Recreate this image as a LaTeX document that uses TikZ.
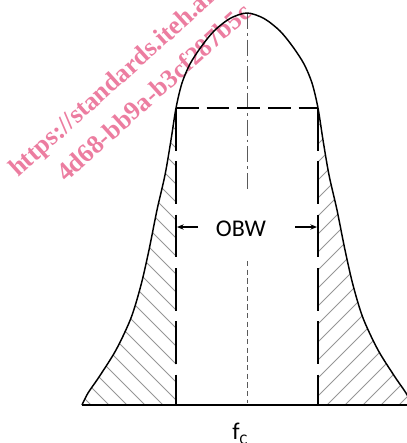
\documentclass[tikz,border=0pt]{standalone}
\usepackage{fontspec}
\setmainfont{Carlito}
\newfontfamily\wmfont{Liberation Serif}
\usetikzlibrary{arrows.meta}
\definecolor{wmpink}{RGB}{236,125,160}
\definecolor{hatchgray}{RGB}{150,150,150}
\definecolor{axisgray}{RGB}{90,90,90}
\tikzset{
  wm/.style={text=wmpink, font=\wmfont\bfseries\fontsize{19.5}{20}\selectfont, inner sep=0pt, anchor=base west, rotate=42},
  curve/.style={line width=1.1pt, black},
  hatchline/.style={line width=0.55pt, hatchgray},
  topdash/.style={line width=1.9pt, black, dash pattern=on 17pt off 6pt},
  sidedash/.style={line width=1.6pt, black, dash pattern=on 32pt off 8pt},
  basedash/.style={line width=1.9pt, black, dash pattern=on 17pt off 7pt},
  centerdd/.style={line width=0.7pt, axisgray, dash pattern=on 12pt off 3pt on 2pt off 3pt},
  centerfine/.style={line width=0.7pt, axisgray, dash pattern=on 4pt off 2.5pt},
  dimarrow/.style={line width=0.8pt, black, -{Stealth[length=5pt,width=4pt]}},
  lbl/.style={font=\fontsize{18}{18}\selectfont, inner sep=0pt}
}
\begin{document}
\begin{tikzpicture}[x=0.75pt,y=-0.75pt]
\useasboundingbox (0,0) rectangle (407,443);
\clip (0,0) rectangle (407,443);

% watermark
\node[wm] (wm1) at (18,178) {https://standards.iteh.ai/catalog};
\node[wm] (wm2) at (66,183) {4d68-bb9a-b3cf287b5c};

% hatching left
\begin{scope}
  \clip plot[smooth, tension=0.5] coordinates {(176,108) (171,140) (165,175) (157,210) (149,250) (141,285) (131,318) (116,350) (99,377) (88,393) (82,405)} -- (176,405) -- cycle;
  \foreach \a in {-340,-322,...,200} \draw[hatchline] (\a,100) -- ++(320,320);
\end{scope}
% hatching right
\begin{scope}
  \clip plot[smooth, tension=0.5] coordinates {(318,108) (323,140) (329,175) (337,210) (345,250) (353,285) (363,318) (378,350) (395,377) (406,393) (412,405)} -- (318,405) -- cycle;
  \foreach \a in {290,308,...,840} \draw[hatchline] (\a,100) -- ++(-320,320);
\end{scope}

% centre lines
\coordinate (ctop) at (247,13);
\coordinate (cmid) at (247,192);
\coordinate (clow) at (247,261);
\coordinate (cbot) at (247,403);
\draw[centerdd] (ctop) -- (cmid);
\draw[centerfine] (clow) -- (cbot);

% baseline
\coordinate (bl) at (82,405);
\coordinate (br) at (407,405);
\draw[line width=1.1pt] (bl) -- (br);

% curve
\draw[curve] plot[smooth, tension=0.5] coordinates {(82,405) (88,393) (99,377) (116,350) (131,318) (141,285) (149,250) (157,210) (165,175) (171,140) (176,108) (182,83) (190,64) (201,47) (214,31) (230,18.5) (247,13) (264,18.5) (280,31) (293,47) (304,64) (312,83) (318,108) (323,140) (329,175) (337,210) (345,250) (353,285) (363,318) (378,350) (395,377) (406,393) (412,405)};

% dashed box
\coordinate (tl) at (176,108);
\coordinate (tr) at (318,108);
\coordinate (bll) at (176,405);
\coordinate (brr) at (318,405);
\draw[topdash] (tl) -- (tr);
\draw[sidedash] (tl) -- (bll);
\draw[sidedash] (tr) -- (brr);
\draw[basedash] (bll) -- (brr);

% OBW
\node[lbl] (obw) at (241,229) {OBW};
\coordinate (al) at (198,227);
\coordinate (alt) at (177,227);
\coordinate (ar) at (295,227);
\coordinate (art) at (317,227);
\draw[dimarrow] (al) -- (alt);
\draw[dimarrow] (ar) -- (art);

% f_C
\node[lbl, anchor=base west] (fc) at (232,439) {f\raisebox{-0.5ex}{\fontsize{11}{11}\selectfont C}};
\end{tikzpicture}
\end{document}
